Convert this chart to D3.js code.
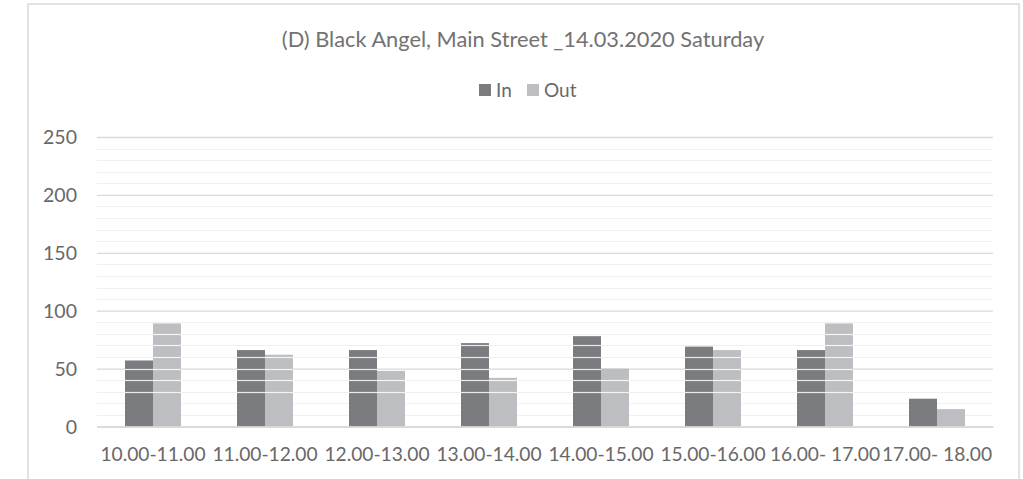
<!DOCTYPE html>
<html>
<head>
<meta charset="utf-8">
<script src="https://cdn.jsdelivr.net/npm/d3@7"></script>
<style>
  html, body { margin: 0; padding: 0; background: #fff; }
  svg { display: block; }
  text { font-family: Lato, "Open Sans", sans-serif; }
</style>
</head>
<body>
<svg id="chart" width="1023" height="479"></svg>
<script>
// Hourly pedestrian counts
const categories = ["10.00-11.00", "11.00-12.00", "12.00-13.00", "13.00-14.00",
                    "14.00-15.00", "15.00-16.00", "16.00- 17.00", "17.00- 18.00"];
const seriesNames = ["In", "Out"];
const inValues  = [57, 66, 66, 72, 78, 69, 66, 24];
const outValues = [89, 62, 48, 42, 50, 66, 89, 15];
const yTicks = [0, 50, 100, 150, 200, 250];
const minorTicks = d3.range(0, 251, 10);
const ruleTicks = [30, 40, 50, 60, 70, 80];
const title = "(D) Black Angel, Main Street _14.03.2020 Saturday";

const colors = { In: "#7b7c80", Out: "#bdbec1" };
const textColor = "#686868";

const svg = d3.select("#chart");
const plot = { left: 97, right: 993, top: 137, bottom: 426.5 };

// outer chart frame
svg.append("rect")
  .attr("x", 28).attr("y", 4)
  .attr("width", 991).attr("height", 500)
  .attr("fill", "#fff")
  .attr("stroke", "#d9d9d9").attr("stroke-width", 1.5);

const x = d3.scaleBand().domain(categories)
  .range([plot.left, plot.right])
  .paddingInner(0.5).paddingOuter(0.25);
const xs = d3.scaleBand().domain(seriesNames).range([0, x.bandwidth()]);
const y = d3.scaleLinear().domain([0, 250]).range([plot.bottom, plot.top]);

// minor gridlines
svg.append("g").selectAll("line")
  .data(minorTicks.filter(v => v % 50 !== 0))
  .join("line")
  .attr("x1", plot.left).attr("x2", plot.right)
  .attr("y1", d => Math.round(y(d)) + 0.5).attr("y2", d => Math.round(y(d)) + 0.5)
  .attr("stroke", "#f0f0f0").attr("stroke-width", 1.2);

// major gridlines via axis
const yAxis = d3.axisLeft(y).tickValues(yTicks).tickSize(-(plot.right - plot.left)).tickPadding(20);
const gy = svg.append("g").attr("transform", `translate(${plot.left},0)`).call(yAxis);
gy.select(".domain").remove();
gy.selectAll(".tick line").attr("stroke", "#d9d9d9").attr("stroke-width", 1.3);
gy.selectAll(".tick text")
  .attr("fill", textColor).style("font-size", "19.5px").attr("dy", "0.35em");

// bars
const groups = svg.append("g").selectAll("g")
  .data(categories.map((c, i) => ({ c, vals: [
    { k: "In", v: inValues[i] }, { k: "Out", v: outValues[i] }] })))
  .join("g")
  .attr("transform", d => `translate(${x(d.c)},0)`);
groups.selectAll("rect")
  .data(d => d.vals)
  .join("rect")
  .attr("x", d => xs(d.k))
  .attr("width", xs.bandwidth())
  .attr("y", d => y(d.v))
  .attr("height", d => y(0) - y(d.v))
  .attr("fill", d => colors[d.k]);

// thin white rules across the bars
groups.each(function (g) {
  const sel = d3.select(this);
  g.vals.forEach(b => {
    sel.selectAll(null)
      .data(ruleTicks.filter(t => t < b.v))
      .join("line")
      .attr("x1", xs(b.k)).attr("x2", xs(b.k) + xs.bandwidth())
      .attr("y1", t => Math.round(y(t)) + 0.5).attr("y2", t => Math.round(y(t)) + 0.5)
      .attr("stroke", "#ffffff").attr("stroke-opacity", 0.85).attr("stroke-width", 1.2);
  });
});

// x axis
const xAxis = d3.axisBottom(x).tickSize(0).tickPadding(21);
const gx = svg.append("g").attr("transform", `translate(0,${plot.bottom})`).call(xAxis);
gx.select(".domain").attr("stroke", "#d9d9d9").attr("stroke-width", 1.3);
gx.selectAll(".tick text").attr("fill", textColor).style("font-size", "19.2px");

// title
svg.append("text")
  .attr("x", 523).attr("y", 47)
  .attr("text-anchor", "middle")
  .attr("fill", "#727272")
  .style("font-size", "21.8px")
  .text(title);

// legend
const legend = svg.append("g").attr("transform", "translate(479,84)");
const items = [{ k: "In", x: 0 }, { k: "Out", x: 48 }];
items.forEach(it => {
  legend.append("rect").attr("x", it.x).attr("y", 0)
    .attr("width", 12).attr("height", 12).attr("fill", colors[it.k]);
  legend.append("text").attr("x", it.x + 17).attr("y", 13)
    .attr("fill", textColor).style("font-size", "19px").text(it.k);
});
</script>
</body>
</html>
